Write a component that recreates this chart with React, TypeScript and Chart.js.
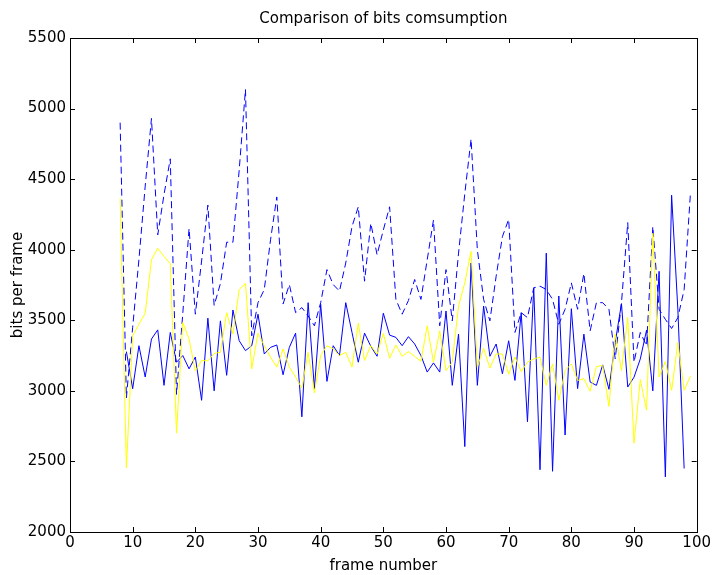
import React, { useEffect, useRef } from "react";
import { Chart, registerables } from "chart.js";

Chart.register(...registerables);

const frames = [
  8, 9, 10, 11, 12, 13, 14, 15, 16, 17,
  18, 19, 20, 21, 22, 23, 24, 25, 26, 27,
  28, 29, 30, 31, 32, 33, 34, 35, 36, 37,
  38, 39, 40, 41, 42, 43, 44, 45, 46, 47,
  48, 49, 50, 51, 52, 53, 54, 55, 56, 57,
  58, 59, 60, 61, 62, 63, 64, 65, 66, 67,
  68, 69, 70, 71, 72, 73, 74, 75, 76, 77,
  78, 79, 80, 81, 82, 83, 84, 85, 86, 87,
  88, 89, 90, 91, 92, 93, 94, 95, 96, 97,
  98, 99,
];

const dashedBits = [
  4900, 2950, 3450, 3930, 4450, 4930, 4105, 4390, 4644, 2975,
  3550, 4150, 3543, 3920, 4316, 3605, 3760, 4053, 4053, 4565,
  5136, 3390, 3625, 3718, 4070, 4374, 3615, 3753, 3554, 3590,
  3531, 3461, 3625, 3859, 3753, 3707, 3906, 4164, 4304, 3777,
  4187, 3964, 4140, 4304, 3648, 3543, 3640, 3789, 3648, 3929,
  4210, 3461, 3859, 3496, 3976, 4398, 4784, 4000, 3648, 3496,
  3812, 4093, 4215, 3414, 3554, 3519, 3730, 3742, 3718, 3648,
  3472, 3578, 3765, 3578, 3831, 3425, 3625, 3625, 3578, 3226,
  3625, 4192, 3203, 3414, 3320, 4164, 3578, 3507, 3442, 3519,
  3718, 4398,
];

const solidBits = [
  null, 3278, 3015, 3320, 3098, 3367, 3432, 3039, 3414, 3203,
  3250, 3156, 3240, 2933, 3515, 3000, 3496, 3110, 3573, 3355,
  3285, 3320, 3543, 3261, 3308, 3325, 3114, 3308, 3409, 2816,
  3625, 3016, 3613, 3067, 3320, 3250, 3625, 3414, 3203, 3409,
  3316, 3245, 3550, 3395, 3379, 3320, 3384, 3332, 3250, 3133,
  3198, 3133, 3566, 3039, 3402, 2605, 3906, 3039, 3601, 3245,
  3332, 3121, 3355, 3074, 3554, 2781, 3730, 2441, 3976, 2430,
  3672, 2687, 3582, 3016, 3402, 3062, 3039, 3184, 3011, 3343,
  3618, 3027, 3097, 3226, 3430, 3000, 3847, 2390, 4386, 3573,
  2450, null,
];

const yellowBits = [
  4363, 2453, 3390, 3472, 3550, 3929, 4010, 3953, 3900, 2700,
  3484, 3367, 3140, 3215, 3212, 3265, 3273, 3554, 3402, 3718,
  3761, 3156, 3409, 3320, 3238, 3168, 3297, 3168, 3097, 3020,
  3273, 2985, 3250, 3320, 3297, 3250, 3273, 3168, 3479, 3215,
  3320, 3261, 3407, 3231, 3325, 3245, 3278, 3245, 3208, 3461,
  3203, 3425, 3144, 3203, 3601, 3765, 3988, 3168, 3301, 3161,
  3261, 3261, 3118, 3240, 3137, 3203, 3226, 3238, 3039, 3191,
  2933, 3144, 3191, 3074, 3086, 2997, 3172, 3180, 2890, 3402,
  3144, 3519, 2629, 3080, 2863, 4117, 3098, 3208, 3003, 3343,
  3003, 3105,
];

const xTicks = [0, 10, 20, 30, 40, 50, 60, 70, 80, 90, 100];
const yTicks = [2000, 2500, 3000, 3500, 4000, 4500, 5000, 5500];

const FONT = "'DejaVu Sans', sans-serif";

const boxPlugin = {
  id: "boxTicks",
  afterLayout(chart: any) {
    const tb = chart.titleBlock;
    if (tb) {
      tb.left = chart.chartArea.left;
      tb.right = chart.chartArea.right;
      tb.width = tb.right - tb.left;
    }
  },
  afterDatasetsDraw(chart: any) {
    const { ctx, chartArea, scales } = chart;
    const { left, right, top, bottom } = chartArea;
    const x = scales.x;
    const y = scales.y;
    const L = 5;
    ctx.save();
    ctx.strokeStyle = "#000";
    ctx.lineWidth = 1;
    ctx.beginPath();
    for (const t of xTicks) {
      const px = Math.round(x.getPixelForValue(t)) + 0.5;
      ctx.moveTo(px, bottom);
      ctx.lineTo(px, bottom - L);
      ctx.moveTo(px, top);
      ctx.lineTo(px, top + L);
    }
    for (const t of yTicks) {
      const py = Math.round(y.getPixelForValue(t)) + 0.5;
      ctx.moveTo(left, py);
      ctx.lineTo(left + L, py);
      ctx.moveTo(right, py);
      ctx.lineTo(right - L, py);
    }
    ctx.stroke();
    ctx.strokeRect(
      Math.round(left) + 0.5,
      Math.round(top) + 0.5,
      Math.round(right) - Math.round(left),
      Math.round(bottom) - Math.round(top)
    );
    ctx.restore();
  },
};

export default function App() {
  const canvasRef = useRef<HTMLCanvasElement | null>(null);

  useEffect(() => {
    const canvas = canvasRef.current;
    if (!canvas) return;
    const toPts = (arr: (number | null)[]) =>
      frames.map((f, i) => ({ x: f, y: arr[i] }));

    const chart = new Chart(canvas, {
      type: "line",
      data: {
        datasets: [
          {
            label: "yellow",
            data: toPts(yellowBits),
            borderColor: "#ffff00",
            borderWidth: 1,
            pointRadius: 0,
            tension: 0,
          },
          {
            label: "solid",
            data: toPts(solidBits),
            borderColor: "#0000ff",
            borderWidth: 1,
            pointRadius: 0,
            tension: 0,
            spanGaps: false,
          },
          {
            label: "dashed",
            data: toPts(dashedBits),
            borderColor: "#0000ff",
            borderWidth: 1,
            borderDash: [7, 4],
            pointRadius: 0,
            tension: 0,
          },
        ],
      } as any,
      options: {
        responsive: false,
        animation: false,
        devicePixelRatio: 1,
        layout: { padding: { left: 0, right: 14, top: 0, bottom: 0 } },
        plugins: {
          legend: { display: false },
          tooltip: { enabled: false },
          title: {
            display: true,
            text: "Comparison of bits comsumption",
            color: "#000",
            font: { family: FONT, size: 15, weight: "normal" },
            padding: { top: 10, bottom: 10 },
          },
        },
        scales: {
          x: {
            type: "linear",
            min: 0,
            max: 100,
            afterFit: (s: any) => {
              s.height = 43;
            },
            afterBuildTicks: (s: any) => {
              s.ticks = xTicks.map((v) => ({ value: v }));
            },
            grid: { display: false, drawTicks: false },
            border: { display: false },
            ticks: {
              color: "#000",
              font: { family: FONT, size: 15 },
              padding: 2,
              maxRotation: 0,
              autoSkip: false,
              callback: (v: any) => String(v),
            },
            title: {
              display: true,
              text: "frame number",
              color: "#000",
              font: { family: FONT, size: 15 },
              padding: { top: 0, bottom: 0 },
            },
          },
          y: {
            type: "linear",
            min: 2000,
            max: 5500,
            afterFit: (s: any) => {
              s.width = 70;
            },
            afterBuildTicks: (s: any) => {
              s.ticks = yTicks.map((v) => ({ value: v }));
            },
            grid: { display: false, drawTicks: false },
            border: { display: false },
            ticks: {
              color: "#000",
              font: { family: FONT, size: 15 },
              padding: 4,
              autoSkip: false,
              callback: (v: any) => String(v),
            },
            title: {
              display: true,
              text: "bits per frame",
              color: "#000",
              font: { family: FONT, size: 15 },
              padding: { top: 9, bottom: 0 },
            },
          },
        },
      },
      plugins: [boxPlugin],
    } as any);

    return () => {
      chart.destroy();
    };
  }, []);

  return (
    <div
      style={{
        position: "fixed",
        left: 0,
        top: 0,
        width: 713,
        height: 575,
        background: "#fff",
      }}
    >
      <canvas ref={canvasRef} width={713} height={575} />
    </div>
  );
}
